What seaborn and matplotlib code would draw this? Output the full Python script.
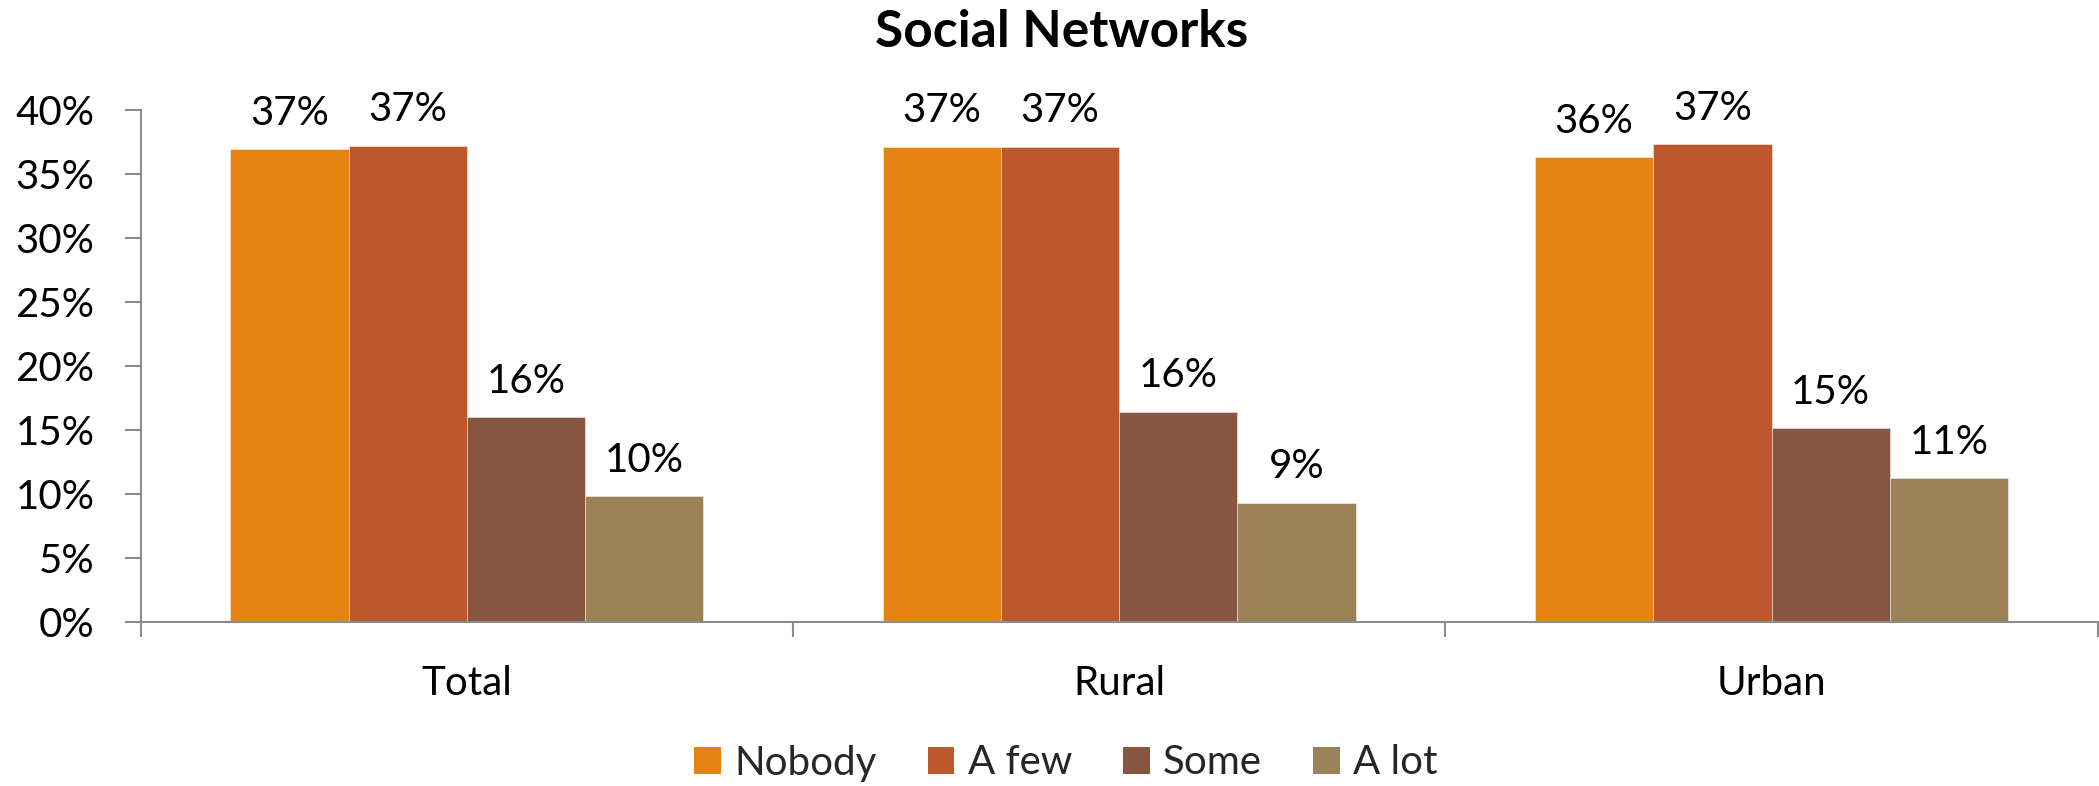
import matplotlib
matplotlib.use("Agg")
import matplotlib.pyplot as plt
from matplotlib.patches import Patch
from matplotlib.ticker import FixedLocator, PercentFormatter
import numpy as np
import pandas as pd
import seaborn as sns

# Share of respondents by size of social network, per area
areas = ["Total", "Rural", "Urban"]
levels = ["Nobody", "A few", "Some", "A lot"]
nobody = [0.369, 0.371, 0.363]
a_few = [0.372, 0.371, 0.373]
some = [0.160, 0.164, 0.151]
a_lot = [0.098, 0.093, 0.112]
colors = ["#E48312", "#BD582C", "#865640", "#9B8357"]

y_ticks = [0.0, 0.05, 0.10, 0.15, 0.20, 0.25, 0.30, 0.35, 0.40]

df = pd.DataFrame({
    "area": np.repeat(areas, len(levels)),
    "level": levels * len(areas),
    "share": [v for row in zip(nobody, a_few, some, a_lot) for v in row],
})

sns.set_theme(style="white")
plt.rcParams["font.family"] = ["Lato", "DejaVu Sans"]

W, H = 2099, 786
fig = plt.figure(figsize=(W / 100, H / 100), dpi=100)
ax = fig.add_axes([140.7 / W, 1 - 621.7 / H, (2097.7 - 140.7) / W, (621.7 - 109.7) / H])

sns.barplot(
    data=df, x="area", y="share", hue="level", order=areas, hue_order=levels,
    palette=colors, saturation=1, width=0.725, gap=0, ax=ax, legend=False,
    edgecolor=(1, 1, 1, 0.45), linewidth=0.7,
)

fs = 29
for cont in ax.containers:
    vals = [b.get_height() for b in cont]
    ax.bar_label(cont, labels=[f"{v:.0%}" for v in vals], padding=12.5,
                 fontsize=fs, color="black")

axis_col = "#8c8c8c"
ax.set_ylim(0, 0.40)
ax.set_xlim(-0.5, 2.5)
ax.yaxis.set_major_locator(FixedLocator(y_ticks))
ax.yaxis.set_major_formatter(PercentFormatter(1.0, decimals=0))
ax.xaxis.set_minor_locator(FixedLocator([-0.5, 0.5, 1.5, 2.5]))
ax.set_xlabel("")
ax.set_ylabel("")

for side in ["top", "right"]:
    ax.spines[side].set_visible(False)
for side in ["left", "bottom"]:
    ax.spines[side].set_color(axis_col)
    ax.spines[side].set_linewidth(1.5)

ax.tick_params(axis="y", which="major", direction="out", length=11.3, width=1.5,
               color=axis_col, pad=22, labelsize=fs, labelcolor="black", left=True)
ax.tick_params(axis="x", which="major", length=0, pad=31, labelsize=fs,
               labelcolor="black", bottom=True)
ax.tick_params(axis="x", which="minor", direction="out", length=11, width=1.5,
               color=axis_col, bottom=True)

fig.text(1061.5 / W, 1 - 47 / H, "Social Networks", ha="center", va="baseline",
         fontsize=37, fontweight="bold", color="black")

handles = [Patch(facecolor=c, edgecolor="none", label=l) for c, l in zip(colors, levels)]
fig.legend(handles=handles, loc="center", bbox_to_anchor=(1066 / W, 1 - 763 / H),
           ncol=4, frameon=False, fontsize=fs, handlelength=0.66, handleheight=0.66,
           handletextpad=0.33, columnspacing=1.27, borderpad=0, borderaxespad=0)

fig.savefig("out.png", dpi=100, facecolor="white")
